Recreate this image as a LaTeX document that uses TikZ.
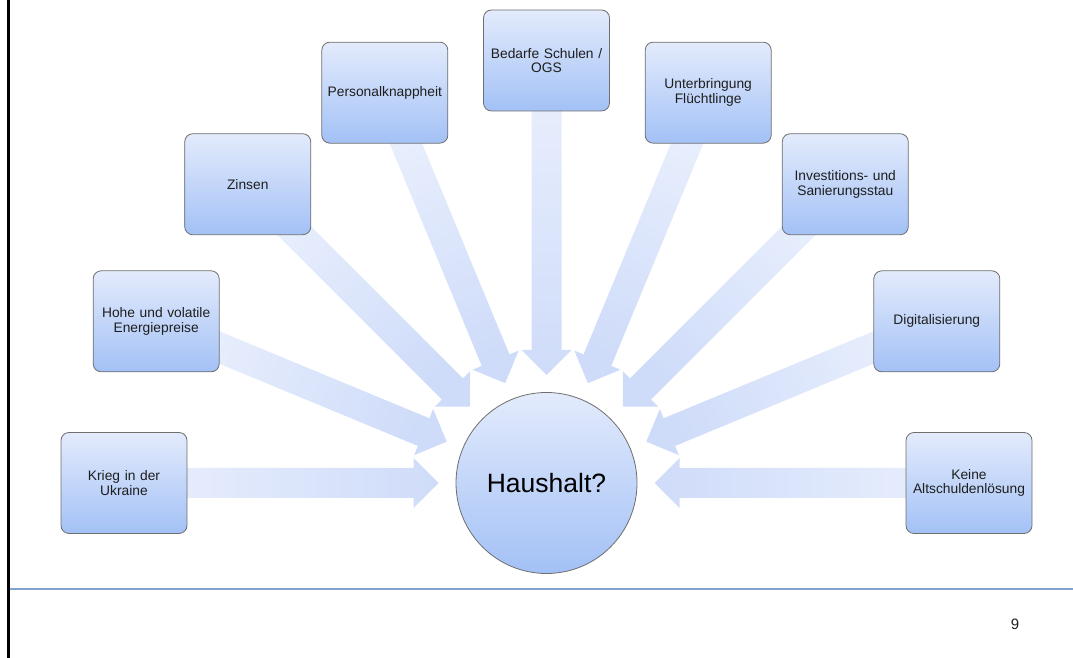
\documentclass[tikz,border=0pt]{standalone}
\usepackage{fontspec}
\setmainfont{Liberation Sans}
\usetikzlibrary{calc}
\pgfdeclarelayer{bg}
\pgfsetlayers{bg,main}
\definecolor{boxtop}{RGB}{227,235,252}
\definecolor{boxbot}{RGB}{163,193,246}
\definecolor{arrtail}{RGB}{234,240,253}
\definecolor{arrhead}{RGB}{207,220,249}
\definecolor{rulecol}{RGB}{130,162,208}
\definecolor{edgecol}{RGB}{110,110,110}
\definecolor{txtcol}{RGB}{30,30,30}
\newcommand\radarrow[2]{%
  \shade[top color=arrhead, bottom color=arrtail, shading angle=#2]
    ($(h.center)!108pt!(#1.center)$)
    -- ($($(h.center)!133pt!(#1.center)$)!25pt!90:(#1.center)$)
    -- ($($(h.center)!133pt!(#1.center)$)!15pt!90:(#1.center)$)
    -- ($(#1.center)!15pt!-90:(h.center)$)
    -- ($(#1.center)!15pt!90:(h.center)$)
    -- ($($(h.center)!133pt!(#1.center)$)!15pt!-90:(#1.center)$)
    -- ($($(h.center)!133pt!(#1.center)$)!25pt!-90:(#1.center)$)
    -- cycle;}
\begin{document}
\begin{tikzpicture}[x=1pt,y=1pt,
  box/.style={draw=edgecol, line width=0.8pt, rounded corners=8pt,
    top color=boxtop, bottom color=boxbot, minimum width=126pt,
    minimum height=101pt, inner sep=2pt, text width=122pt, align=center,
    text=txtcol, font=\fontsize{13.8}{14.5}\selectfont},
  hub/.style={circle, draw=edgecol, line width=0.8pt, top color=boxtop,
    bottom color=boxbot, minimum size=181pt, inner sep=0pt,
    font=\fontsize{26.5}{30}\selectfont},
  pagenum/.style={font=\fontsize{15}{17}\selectfont, text=txtcol},
]
\useasboundingbox (0,0) rectangle (1073,658);
\node[hub] (h) at (546.5,175) {Haushalt?};
\node[box] (b1) at ([shift={(180:422.5)}]h.center) {Krieg in der\\Ukraine};
\node[box] (b2) at ([shift={(157.5:422.5)}]h.center) {Hohe und volatile\\Energiepreise};
\node[box] (b3) at ([shift={(135:422.5)}]h.center) {Zinsen};
\node[box] (b4) at ([shift={(112.5:422.5)}]h.center) {Personalknappheit};
\node[box] (b5) at ([shift={(90:422.5)}]h.center) {Bedarfe Schulen /\\OGS};
\node[box] (b6) at ([shift={(67.5:422.5)}]h.center) {Unterbringung\\Flüchtlinge};
\node[box] (b7) at ([shift={(45:422.5)}]h.center) {Investitions- und\\Sanierungsstau};
\node[box] (b8) at ([shift={(22.5:422.5)}]h.center) {Digitalisierung};
\node[box] (b9) at ([shift={(0:422.5)}]h.center) {Keine\\Altschuldenlösung};
\begin{pgfonlayer}{bg}
\radarrow{b1}{270}
\radarrow{b2}{247.5}
\radarrow{b3}{225}
\radarrow{b4}{202.5}
\radarrow{b5}{180}
\radarrow{b6}{157.5}
\radarrow{b7}{135}
\radarrow{b8}{112.5}
\radarrow{b9}{90}
\end{pgfonlayer}
\draw[rulecol, line width=2pt] (10,68.5) coordinate (r1) -- (1073,68.5) coordinate (r2);
\draw[black, line width=2.7pt] (8.7,0) coordinate (l1) -- (8.7,658) coordinate (l2);
\node[pagenum] (pg) at (1015,34) {9};
\end{tikzpicture}
\end{document}
